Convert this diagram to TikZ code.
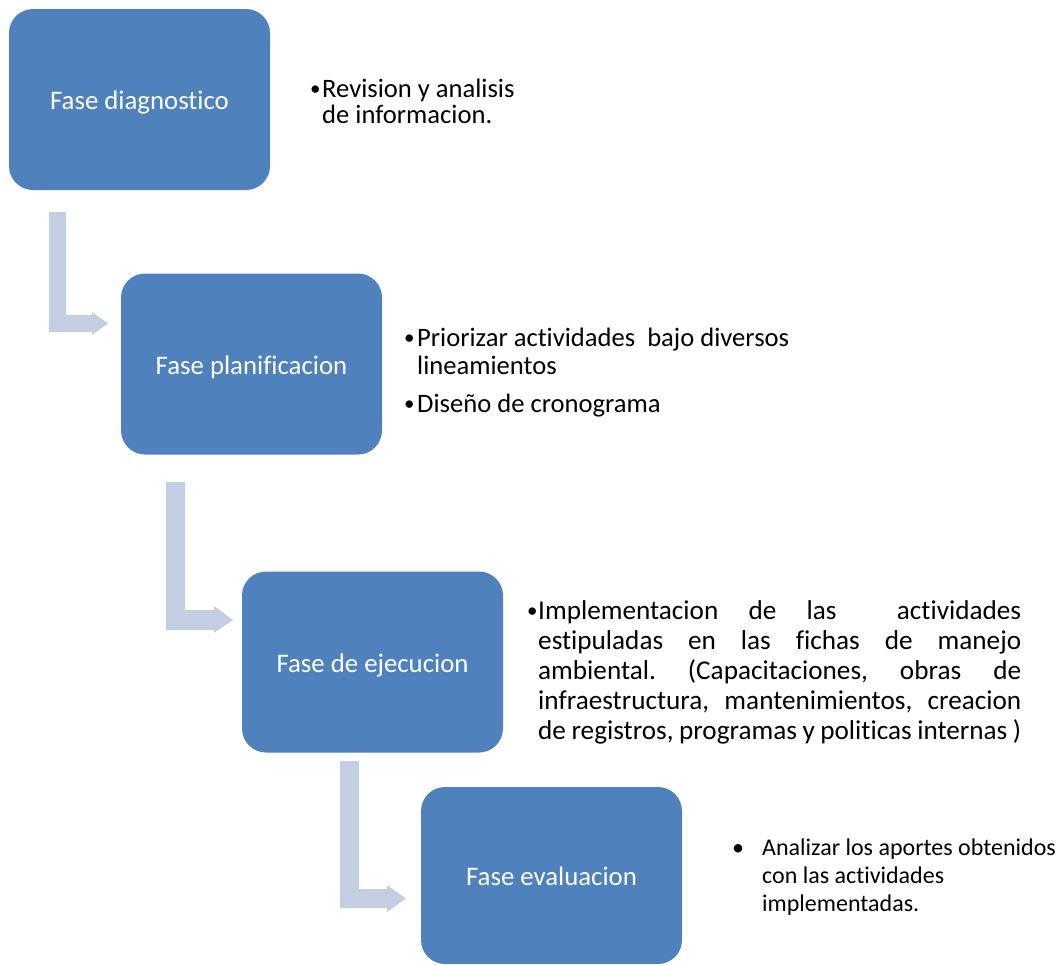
\documentclass[tikz,border=0pt]{standalone}
\usepackage{fontspec}
\setmainfont{Carlito}[Ligatures=CommonOff]
\definecolor{boxblue}{HTML}{4F81BD}
\definecolor{arrowgray}{HTML}{C4CEE3}
\newcommand{\bul}{\raisebox{1.5pt}{\fontsize{21}{21}\selectfont •}}
\begin{document}
\frenchspacing
\begin{tikzpicture}[x=1pt,y=-1pt,
  phase/.style={rectangle, rounded corners=24pt, fill=boxblue, text=white,
    minimum width=261pt, minimum height=181pt, inner sep=0pt,
    text height=21pt, text depth=1pt,
    font=\fontsize{26.8}{31}\selectfont},
  bendarrow/.style={fill=arrowgray, draw=none},
  note/.style={anchor=base west, inner sep=0pt, text=black, align=left},
  bigtext/.style={font=\fontsize{26.6}{#1}\selectfont},
]
\useasboundingbox (0,0) rectangle (1063,964);

% bending arrows
\fill[bendarrow] (49,212) -- (66,212) -- (66,315) -- (92,315) -- (92,312) -- (108,323.5)
  -- (92,335) -- (92,332) -- (49,332) -- cycle;
\fill[bendarrow] (166,482) -- (185,482) -- (185,610) -- (214,610) -- (214,606) -- (233,620)
  -- (214,633) -- (214,630) -- (166,630) -- cycle;
\fill[bendarrow] (340,761) -- (359,761) -- (359,889) -- (387,889) -- (387,885) -- (406,898.5)
  -- (387,912) -- (387,908) -- (340,908) -- cycle;

% phase boxes
\node[phase] (p1) at (139.5,99.5) {Fase diagnostico};
\node[phase] (p2) at (251.5,364) {Fase planificacion};
\node[phase] (p3) at (372.5,662) {Fase de ejecucion};
\node[phase, minimum height=177pt] (p4) at (551.5,875.5) {Fase evaluacion};

% notes
\node[note, bigtext=26] (t1) at (310,97)
  {\makebox[12pt][l]{\bul}\parbox[t]{220pt}{\raggedright Revision y analisis\\de informacion.}};
\node[note, bigtext=28] (t2a) at (404,346)
  {\makebox[13pt][l]{\bul}\parbox[t]{420pt}{\raggedright Priorizar actividades\ \ bajo diversos\\lineamientos}};
\node[note, bigtext=28] (t2b) at (404,412)
  {\makebox[13pt][l]{\bul}Diseño de cronograma};
\node[note, font=\fontsize{27.2}{30}\selectfont] (t3) at (527,619)
  {\makebox[11pt][l]{\bul}\parbox[t]{483pt}{Implementacion de las\ \ actividades\linebreak
   estipuladas en las fichas de manejo\linebreak
   ambiental. (Capacitaciones, obras de\linebreak
   infraestructura, mantenimientos, creacion\linebreak
   de registros, programas y politicas internas )}};
\node[note, font=\fontsize{24}{28}\selectfont] (t4) at (732,855)
  {\makebox[30pt][l]{•}\parbox[t]{300pt}{\raggedright Analizar los aportes obtenidos\\con las actividades\\implementadas.}};
\end{tikzpicture}
\end{document}
